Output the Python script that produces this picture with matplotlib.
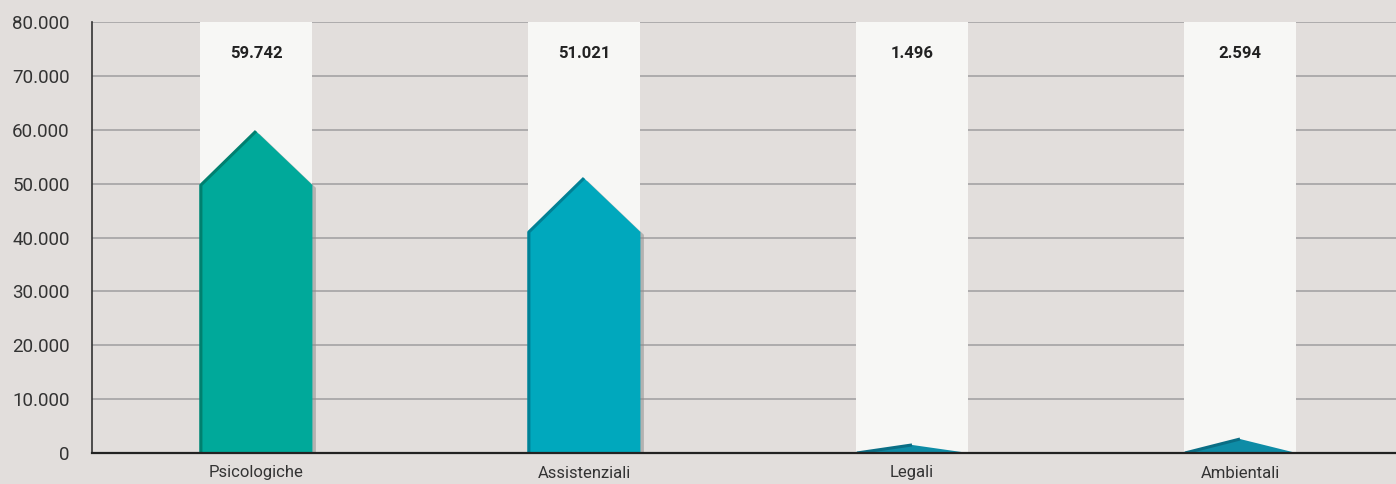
import matplotlib
matplotlib.use("Agg")
import matplotlib.pyplot as plt
from matplotlib.patches import Polygon, Rectangle
import matplotlib.patheffects as pe

categories = ["Psicologiche", "Assistenziali", "Legali", "Ambientali"]
values = [59742, 51021, 1496, 2594]
value_labels = ["59.742", "51.021", "1.496", "2.594"]
yticks = [0, 10000, 20000, 30000, 40000, 50000, 60000, 70000, 80000]
ytick_labels = ["0", "10.000", "20.000", "30.000", "40.000", "50.000", "60.000", "70.000", "80.000"]
colors = ["#00A99A", "#00A8BD", "#0E8CA6", "#0E8CA6"]
edge_colors = ["#00806F", "#008095", "#0A6E85", "#0A6E85"]

BG = "#E2DEDC"
plt.rcParams['font.family'] = ['Roboto', 'DejaVu Sans']

fig = plt.figure(figsize=(13.96, 4.84), dpi=100, facecolor=BG)
ax = fig.add_axes([92/1396, 1 - 453/484, (1396-92)/1396, (453-22)/484])
ax.set_facecolor(BG)

x0, x1 = -0.5, 3.4756
ax.set_xlim(x0, x1)
ax.set_ylim(0, 80000)
hw = 0.172
arrow_h = 10000

for y in yticks[1:]:
    ax.axhline(y, color="#A9A7A8", lw=1.3, zorder=1)

for i, (v, c, ec) in enumerate(zip(values, colors, edge_colors)):
    ax.add_patch(Rectangle((i - hw, 0), 2 * hw, 80000, facecolor="#F7F7F5",
                           edgecolor="none", zorder=2))
    sh = max(0, v - arrow_h)
    pts = [(i - hw, 0), (i - hw, sh), (i, v), (i + hw, sh), (i + hw, 0)]
    poly = Polygon(pts, closed=True, facecolor=c, edgecolor="none", zorder=3,
                   path_effects=[pe.SimplePatchShadow(offset=(2.5, -2), shadow_rgbFace="#8E8E8E", alpha=0.55),
                                 pe.Normal()])
    ax.add_patch(poly)
    # darker left edge
    ax.plot([i - hw + 0.004, i - hw + 0.004, i], [0, sh, v], color=ec, lw=2.2,
            solid_capstyle="butt", zorder=4)
    ax.text(i, 74200, value_labels[i], ha="center", va="center", fontsize=12,
            fontweight="bold", color="#222222", zorder=5)

ax.set_yticks(yticks)
ax.set_yticklabels(ytick_labels, fontsize=13.5, color="#333333")
ax.set_xticks(range(len(categories)))
ax.set_xticklabels(categories, fontsize=12, color="#333333")
ax.tick_params(axis="y", length=0, pad=16)
ax.tick_params(axis="x", length=0, pad=9)
for s in ["top", "right"]:
    ax.spines[s].set_visible(False)
ax.spines["left"].set_color("#333333")
ax.spines["left"].set_linewidth(1.2)
ax.spines["bottom"].set_color("#222222")
ax.spines["bottom"].set_linewidth(1.6)
ax.spines["left"].set_zorder(6)
ax.spines["bottom"].set_zorder(6)

fig.savefig("out.png", dpi=100, facecolor=BG)
